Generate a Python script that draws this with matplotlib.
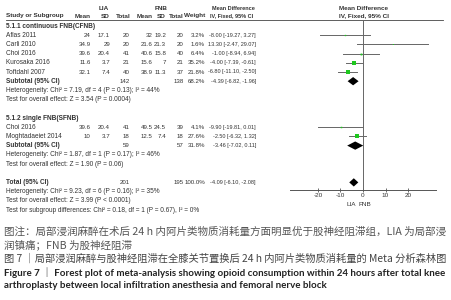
import matplotlib
matplotlib.use("Agg")
import matplotlib.pyplot as plt
import numpy as np

plt.rcParams['font.family'] = ['Liberation Sans', 'DejaVu Sans']
plt.rcParams['axes.unicode_minus'] = False

# ---- data ----
studies1 = ["Aflas 2011", "Carli 2010", "Choi 2016", "Kurosaka 2016", "Toftdahl 2007"]
lia_mean1 = [24, 34.9, 39.6, 11.6, 32.1]
lia_sd1 = [17.1, 29, 20.4, 3.7, 7.4]
lia_n1 = [20, 20, 41, 21, 40]
fnb_mean1 = [32, 21.6, 40.6, 15.6, 38.9]
fnb_sd1 = [19.2, 21.3, 15.8, 7, 11.3]
fnb_n1 = [20, 20, 40, 21, 37]
weight1 = [3.2, 1.6, 6.4, 35.2, 21.8]
md1 = [-8.00, 13.30, -1.00, -4.00, -6.80]
lo1 = [-19.27, -2.47, -8.94, -7.39, -11.10]
hi1 = [3.27, 29.07, 6.94, -0.61, -2.50]

studies2 = ["Choi 2016", "Moghtadaeiet 2014"]
lia_mean2 = [39.6, 10]
lia_sd2 = [20.4, 3.7]
lia_n2 = [41, 18]
fnb_mean2 = [49.5, 12.5]
fnb_sd2 = [24.5, 7.4]
fnb_n2 = [39, 18]
weight2 = [4.1, 27.6]
md2 = [-9.90, -2.50]
lo2 = [-19.81, -6.32]
hi2 = [0.01, 1.32]

group_titles = ["5.1.1 continuous FNB(CFNB)", "5.1.2 single FNB(SFNB)"]
sub_n_lia = [142, 59]
sub_n_fnb = [138, 57]
sub_weight = [68.2, 31.8]
sub_md = [-4.39, -3.46]
sub_lo = [-6.82, -7.02]
sub_hi = [-1.96, 0.11]
sub_het = ["Heterogeneity: Chi\u00b2 = 7.19, df = 4 (P = 0.13); I\u00b2 = 44%",
           "Heterogeneity: Chi\u00b2 = 1.87, df = 1 (P = 0.17); I\u00b2 = 46%"]
sub_test = ["Test for overall effect: Z = 3.54 (P = 0.0004)",
            "Test for overall effect: Z = 1.90 (P = 0.06)"]

tot_n_lia = 201
tot_n_fnb = 195
tot_weight = 100.0
tot_md = -4.09
tot_lo = -6.10
tot_hi = -2.08
tot_het = "Heterogeneity: Chi\u00b2 = 9.23, df = 6 (P = 0.16); I\u00b2 = 35%"
tot_test = "Test for overall effect: Z = 3.99 (P < 0.0001)"
sub_diff = "Test for subgroup differences: Chi\u00b2 = 0.18, df = 1 (P = 0.67), I\u00b2 = 0%"

ticks = [-20, -10, 0, 10, 20]

caption = [
    "图注：局部浸润麻醉在术后 24 h 内阿片类物质消耗量方面明显优于股神经阻滞组，LIA 为局部浸",
    "润镇痛；FNB 为股神经阻滞",
    "图 7 ｜局部浸润麻醉与股神经阻滞在全膝关节置换后 24 h 内阿片类物质消耗量的 Meta 分析森林图",
    "Figure 7 ｜ Forest plot of meta-analysis showing opioid consumption within 24 hours after total knee",
    "arthroplasty between local infiltration anesthesia and femoral nerve block",
]

# ---- layout ----
W, H = 452, 300
ROW0, DROW = 26.0, 9.2


def row(px):
    return (px - ROW0) / DROW


fig = plt.figure(figsize=(W / 100, H / 100), dpi=100)
fig.patch.set_facecolor('white')
ax = fig.add_axes([0, 0, 1, 1])
ax.set_xlim(0, W)
ax.set_ylim(row(H), row(0))
ax.axis('off')

TC = '#333333'
FS_L = 4.7    # study / heterogeneity text
FS_H = 4.6    # column headers
FS_N = 4.4    # numeric columns
FS_CI = 4.0   # mean difference column
FS_F = 4.6    # forest header / ticks
green = '#1ec81e'

cols = {'lm': 90.5, 'ls': 110, 'ln': 129.5, 'fm': 152.5, 'fs': 166, 'fn': 183.5,
        'w': 205, 'ci': 256}


def t(x, y, s, ha='left', bold=False, fs=FS_L):
    ax.text(x, y, s, ha=ha, va='center', fontsize=fs, color=TC,
            fontweight='bold' if bold else 'normal')


def fmt_ci(m, l, h):
    return f"{m:.2f} [{l:.2f}, {h:.2f}]"


# headers
t(103.5, row(8), "LIA", ha='center', bold=True, fs=FS_H)
t(161, row(8), "FNB", ha='center', bold=True, fs=FS_H)
t(233, row(8), "Mean Difference", ha='center', bold=True, fs=FS_CI)
t(363.5, row(8), "Mean Difference", ha='center', bold=True, fs=FS_F)
hy = row(16)
t(6, hy, "Study or Subgroup", bold=True, fs=FS_H)
for k, lab in [('lm', 'Mean'), ('ls', 'SD'), ('ln', 'Total'), ('fm', 'Mean'),
               ('fs', 'SD'), ('fn', 'Total'), ('w', 'Weight')]:
    t(cols[k] + (1.5 if k == 'ln' else 0), hy, lab, ha='right', bold=True, fs=FS_H)
t(231.5, hy, "IV, Fixed, 95% CI", ha='center', bold=True, fs=FS_CI)
t(364, hy, "IV, Fixed, 95% CI", ha='center', bold=True, fs=FS_F)
ax.plot([6, 443], [row(20), row(20)], color='#444444', lw=0.6)

groups = [
    (studies1, lia_mean1, lia_sd1, lia_n1, fnb_mean1, fnb_sd1, fnb_n1, weight1, md1, lo1, hi1),
    (studies2, lia_mean2, lia_sd2, lia_n2, fnb_mean2, fnb_sd2, fnb_n2, weight2, md2, lo2, hi2),
]

# forest axes
x0, x1 = 290, 436
ax_f = fig.add_axes([x0 / W, 1 - 190 / H, (x1 - x0) / W, 170 / H])
ax_f.set_xlim(-32.4, 32.4)
ax_f.set_ylim(row(190), row(20))
ax_f.patch.set_alpha(0)
for s in ['top', 'left', 'right']:
    ax_f.spines[s].set_visible(False)
ax_f.spines['bottom'].set_color('#555555')
ax_f.spines['bottom'].set_linewidth(0.7)
ax_f.set_yticks([])
ax_f.set_xticks(ticks)
ax_f.set_xticklabels([str(v) for v in ticks])
ax_f.tick_params(axis='x', direction='inout', length=3, width=0.6, color='#555555',
                 labelsize=FS_F, labelcolor=TC, pad=1)
ax_f.axvline(0, color='#666666', lw=0.7)


def diamond(r, m, l, h, hh=0.45):
    ax_f.fill([l, m, h, m], [r, r - hh, r, r + hh], color='black', lw=0)


r = 0
for g, grp in enumerate(groups):
    (names, lm, ls, ln, fm, fs_, fn, w, md, lo, hi) = grp
    t(6, r, group_titles[g], bold=True)
    r += 1
    for i in range(len(names)):
        t(6, r, names[i])
        t(cols['lm'], r, f"{lm[i]:g}", ha='right', fs=FS_N)
        t(cols['ls'], r, f"{ls[i]:g}", ha='right', fs=FS_N)
        t(cols['ln'], r, f"{ln[i]:g}", ha='right', fs=FS_N)
        t(cols['fm'], r, f"{fm[i]:g}", ha='right', fs=FS_N)
        t(cols['fs'], r, f"{fs_[i]:g}", ha='right', fs=FS_N)
        t(cols['fn'], r, f"{fn[i]:g}", ha='right', fs=FS_N)
        t(cols['w'], r, f"{w[i]:.1f}%", ha='right', fs=FS_N)
        t(cols['ci'], r, fmt_ci(md[i], lo[i], hi[i]), ha='right', fs=FS_CI)
        ax_f.plot([lo[i], hi[i]], [r, r], color='#666666', lw=0.7, zorder=2)
        side_px = 0.725 * np.sqrt(w[i])
        ax_f.plot(md[i], r, 's', ms=side_px * 0.72, color=green, mew=0, zorder=3)
        r += 1
    t(6, r, "Subtotal (95% CI)", bold=True)
    t(cols['ln'], r, f"{sub_n_lia[g]}", ha='right', fs=FS_N)
    t(cols['fn'], r, f"{sub_n_fnb[g]}", ha='right', fs=FS_N)
    t(cols['w'], r, f"{sub_weight[g]:.1f}%", ha='right', fs=FS_N)
    t(cols['ci'], r, fmt_ci(sub_md[g], sub_lo[g], sub_hi[g]), ha='right', fs=FS_CI)
    diamond(r, sub_md[g], sub_lo[g], sub_hi[g])
    r += 1
    t(6, r, sub_het[g])
    r += 1
    t(6, r, sub_test[g])
    r += 2

t(6, r, "Total (95% CI)", bold=True)
t(cols['ln'], r, f"{tot_n_lia}", ha='right', fs=FS_N)
t(cols['fn'], r, f"{tot_n_fnb}", ha='right', fs=FS_N)
t(cols['w'], r, f"{tot_weight:.1f}%", ha='right', fs=FS_N)
t(cols['ci'], r, fmt_ci(tot_md, tot_lo, tot_hi), ha='right', fs=FS_CI)
diamond(r, tot_md, tot_lo, tot_hi)
t(6, r + 1, tot_het)
t(6, r + 2, tot_test)
t(6, r + 3, sub_diff)

t(356.5, row(204), "LIA", ha='right', fs=FS_F)
t(359, row(204), "FNB", ha='left', fs=FS_F)

# ---- caption ----
cap_y = [232, 245, 259, 273, 286]
cap_style = [
    dict(family=['Noto Sans CJK SC'], color='#555555', fontweight='normal'),
    dict(family=['Noto Sans CJK SC'], color='#555555', fontweight='normal'),
    dict(family=['Noto Sans CJK SC'], color='#444444', fontweight='normal'),
    dict(family=['Lato', 'Noto Sans CJK SC'], color='#222222', fontweight='bold'),
    dict(family=['Lato', 'Noto Sans CJK SC'], color='#222222', fontweight='bold'),
]
targets = [443, None, 443, 440, None]
texts = []
for s, y, st in zip(caption, cap_y, cap_style):
    texts.append(fig.text(4 / W, 1 - y / H, s, ha='left', va='center', fontsize=7.5, **st))
fig.canvas.draw()
rend = fig.canvas.get_renderer()
size = 7.5
for i, tx in enumerate(texts):
    if targets[i] is not None:
        wpx = tx.get_window_extent(rend).width
        size = 7.5 * targets[i] / wpx
    tx.set_fontsize(size)

fig.savefig("out.png", dpi=100, facecolor='white')
